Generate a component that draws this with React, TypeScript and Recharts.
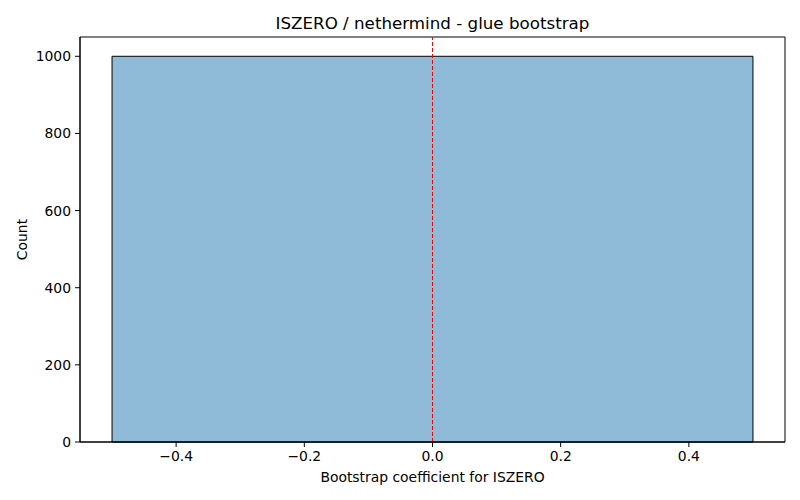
import { ComposedChart, XAxis, YAxis, ReferenceArea, ReferenceLine } from "recharts";

const binEdges = [-0.5, 0.5];
const binCounts = [1000];
const xTicks = [-0.4, -0.2, 0, 0.2, 0.4];
const yTicks = [0, 200, 400, 600, 800, 1000];
const markerX = 0;
const xDomain = [-0.55, 0.55];
const yDomain = [0, 1050];

const font = "'DejaVu Sans', sans-serif";
const tickStyle = { fill: "#000", fontSize: 13.9, fontFamily: font };

const fmtX = (v: number) => v.toFixed(1).replace("-", "\u2212");

export default function App() {
  const bins = binCounts.map((count, i) => ({ x1: binEdges[i], x2: binEdges[i + 1], count }));

  return (
    <div style={{ position: "relative", width: 800, height: 500, background: "#fff" }}>
      <style>{`body{margin:0}`}</style>
      <div
        style={{
          position: "absolute",
          left: 80,
          width: 705,
          top: 13,
          textAlign: "center",
          fontFamily: font,
          fontSize: 16.7,
          color: "#000",
        }}
      >
        ISZERO / nethermind - glue bootstrap
      </div>
      <ComposedChart width={800} height={500} data={bins} margin={{ top: 37, right: 15, left: 0, bottom: 0 }}>
        <XAxis
          type="number"
          dataKey="x1"
          domain={xDomain}
          ticks={xTicks}
          tickFormatter={fmtX}
          allowDataOverflow
          height={58}
          tickSize={5}
          tickMargin={4}
          tick={tickStyle}
          stroke="#000"
          label={{ value: "Bootstrap coefficient for ISZERO", position: "insideBottom", offset: 18, fill: "#000", fontSize: 13.9, fontFamily: font }}
        />
        <YAxis
          type="number"
          domain={yDomain}
          ticks={yTicks}
          allowDataOverflow
          width={80}
          tickSize={5}
          tickMargin={4}
          tick={tickStyle}
          stroke="#000"
          label={{ value: "Count", angle: -90, position: "insideLeft", offset: 22, fill: "#000", fontSize: 13.9, fontFamily: font, style: { textAnchor: "middle" } }}
        />
        {/* axes frame */}
        <ReferenceArea
          x1={xDomain[0]}
          x2={xDomain[1]}
          y1={yDomain[0]}
          y2={yDomain[1]}
          fill="none"
          stroke="#000"
          strokeWidth={1}
          strokeOpacity={1}
        />
        {bins.map((b, i) => (
          <ReferenceArea
            key={i}
            x1={b.x1}
            x2={b.x2}
            y1={0}
            y2={b.count}
            fill="#1f77b4"
            fillOpacity={0.5}
            stroke="#000"
            strokeWidth={1}
            strokeOpacity={1}
          />
        ))}
        <ReferenceLine x={markerX} stroke="#ff0000" strokeWidth={1} strokeDasharray="4 2" />
      </ComposedChart>
    </div>
  );
}
